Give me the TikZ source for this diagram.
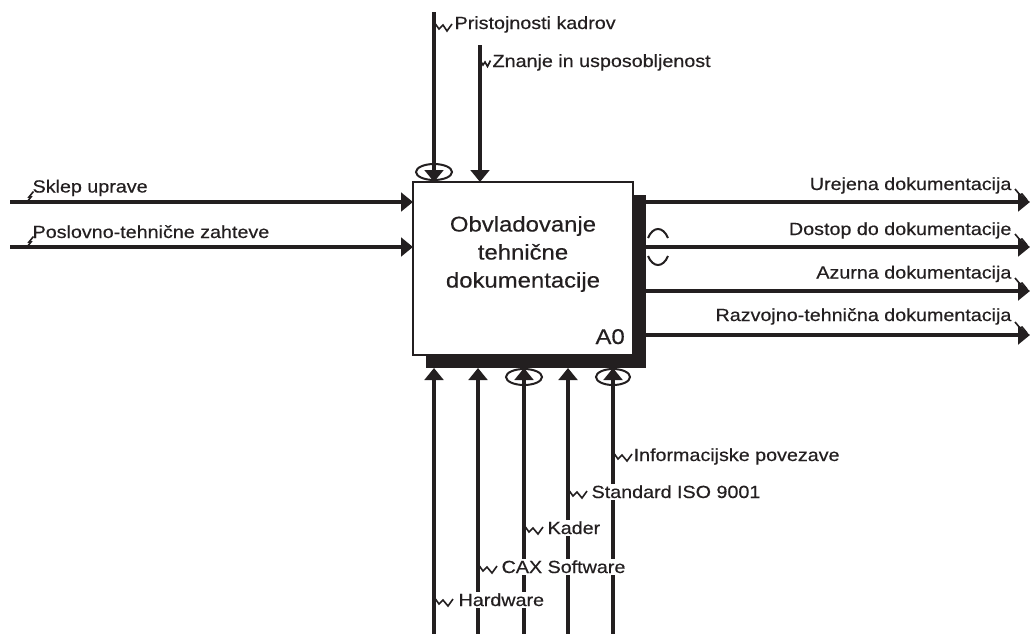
\documentclass[tikz,border=0pt]{standalone}
\usepackage{fontspec}
\setmainfont{Liberation Sans}[FakeStretch=1.12, FakeBold=0.35]
\usetikzlibrary{arrows.meta}
\definecolor{ink}{HTML}{231F20}
\begin{document}
\begin{tikzpicture}[x=0.75pt,y=-0.75pt,
  flow/.style={line width=2.3pt, draw=ink},
  arr/.style={flow, -{Triangle[length=9pt,width=14pt]}},
  lbl/.style={font=\fontsize{13.2}{15}\selectfont, text=ink, fill=white, inner sep=1pt},
  sq/.style={line width=1.2pt, draw=ink, line join=miter, miter limit=4},
  tun/.style={line width=1.5pt, draw=ink},
  boxshape/.style={minimum width=165pt, minimum height=129.75pt, anchor=north west, inner sep=0pt, outer sep=0pt}
]
\useasboundingbox (0,0) rectangle (1030,633);
\fill[white] (0,0) rectangle (1030,633);

% activity box with shadow
\node[boxshape, fill=ink] (shadow) at (426,195) {};
\node[boxshape, draw=ink, fill=white, line width=2pt] (box) at (413,182) {};
\node[font=\fontsize{16}{21}\selectfont, align=center, text=ink] (title) at (523,254) {Obvladovanje\\tehnične\\dokumentacije};
\node[font=\fontsize{16}{20}\selectfont, anchor=base east, text=ink, inner sep=0pt] (num) at (625,344) {A0};

% inputs
\coordinate (i1) at (10,202);
\coordinate (i2) at (10,247);
\draw[arr] (i1) -- (box.west |- i1);
\draw[arr] (i2) -- (box.west |- i2);
\node[lbl, anchor=base west] (li1) at (31,192.5) {Sklep uprave};
\node[lbl, anchor=base west] (li2) at (31,238) {Poslovno-tehnične zahteve};
\draw[sq] (27,202) -- (31,197) -- (29,197) -- (33.5,191.5);
\draw[sq] (27,247) -- (31,242) -- (29,242) -- (33.5,236.5);

% outputs
\coordinate (o1) at (1030,202);
\coordinate (o2) at (1030,247);
\coordinate (o3) at (1030,291);
\coordinate (o4) at (1030,335);
\draw[arr] (shadow.east |- o1) -- (o1);
\draw[arr] (shadow.east |- o2) -- (o2);
\draw[arr] (shadow.east |- o3) -- (o3);
\draw[arr] (shadow.east |- o4) -- (o4);
\draw[tun] (648,238) .. controls (653,226) and (663,226) .. (668,238);
\draw[tun] (648,256) .. controls (653,268) and (663,268) .. (668,256);
\node[lbl, anchor=base east] (lo1) at (1013,190) {Urejena dokumentacija};
\node[lbl, anchor=base east] (lo2) at (1013,235) {Dostop do dokumentacije};
\node[lbl, anchor=base east] (lo3) at (1013,278.5) {Azurna dokumentacija};
\node[lbl, anchor=base east] (lo4) at (1013,321) {Razvojno-tehnična dokumentacija};
\draw[sq] (1015,189) -- (1020,195) -- (1022,194) -- (1027,200);
\draw[sq] (1015,234) -- (1020,240) -- (1022,239) -- (1027,245);
\draw[sq] (1015,278) -- (1020,284) -- (1022,283) -- (1027,289);
\draw[sq] (1015,322) -- (1020,328) -- (1022,327) -- (1027,333);

% controls
\coordinate (c1) at (434,12);
\coordinate (c2) at (480,45);
\draw[tun] (434,172) ellipse [x radius=18, y radius=8];
\draw[arr] (c1) -- (c1 |- box.north);
\draw[arr] (c2) -- (c2 |- box.north);
\node[lbl, anchor=base west] (lc1) at (453,29) {Pristojnosti kadrov};
\node[lbl, anchor=base west] (lc2) at (491,67) {Znanje in usposobljenost};
\draw[sq] (434,22) -- ++(5,7) -- ++(4,-4) -- ++(4,6) -- ++(5,-7);
\draw[sq] (480,60) -- ++(3,5) -- ++(2,-3) -- ++(2.5,4.5) -- ++(3,-6);

% mechanisms
\coordinate (m1) at (434,640);
\coordinate (m2) at (478,640);
\coordinate (m3) at (524,640);
\coordinate (m4) at (568,640);
\coordinate (m5) at (613,640);
\draw[tun] (524,377) ellipse [x radius=18, y radius=8];
\draw[tun] (613,377) ellipse [x radius=17, y radius=8];
\foreach \m in {m1,m2,m3,m4,m5}{
  \draw[arr] (\m) -- (\m |- shadow.south);
}
\node[lbl, anchor=base west] (lm5) at (632,461) {Informacijske povezave};
\node[lbl, anchor=base west] (lm4) at (590,498) {Standard ISO 9001};
\node[lbl, anchor=base west] (lm3) at (546,534) {Kader};
\node[lbl, anchor=base west] (lm2) at (500,573) {CAX Software};
\node[lbl, anchor=base west] (lm1) at (457,606) {Hardware};
\draw[sq] (613,452) -- ++(5,7) -- ++(4,-4) -- ++(5,6) -- ++(5,-7);
\draw[sq] (568,489) -- ++(5,7) -- ++(4,-4) -- ++(5,6) -- ++(5,-7);
\draw[sq] (524,525) -- ++(5,7) -- ++(4,-4) -- ++(5,6) -- ++(5,-7);
\draw[sq] (478,564) -- ++(5,7) -- ++(4,-4) -- ++(5,6) -- ++(5,-7);
\draw[sq] (434,597) -- ++(5,7) -- ++(4,-4) -- ++(5,6) -- ++(5,-7);
\end{tikzpicture}
\end{document}
